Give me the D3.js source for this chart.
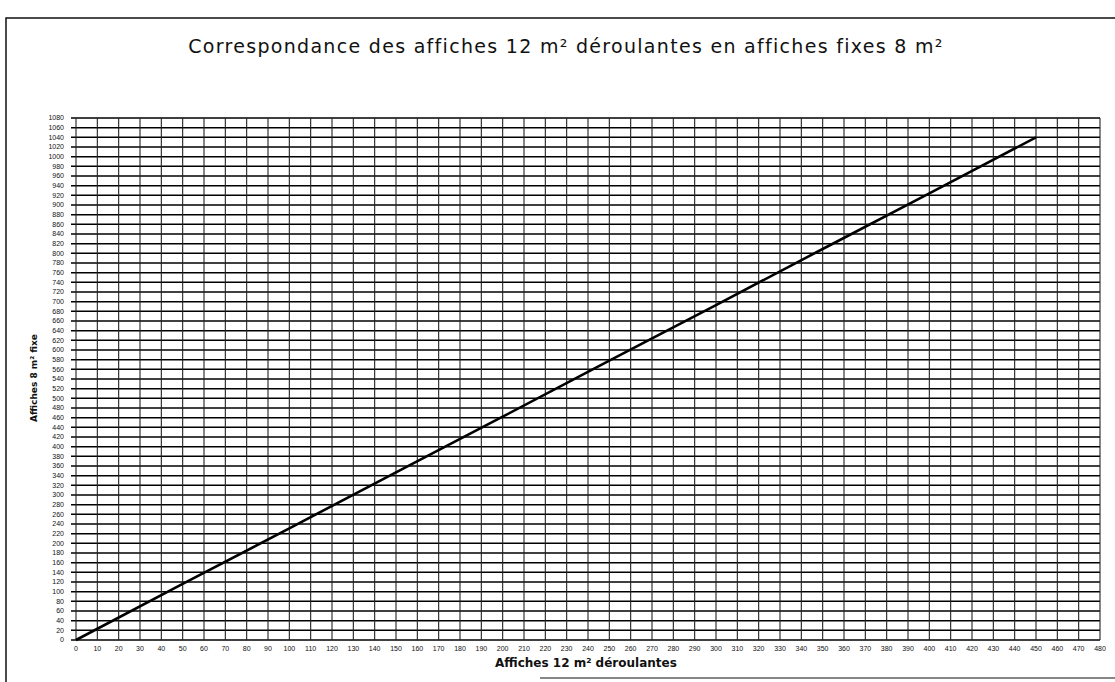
<!DOCTYPE html>
<html>
<head>
<meta charset="utf-8">
<script src="https://cdn.jsdelivr.net/npm/d3@7"></script>
<style>
  body { margin: 0; background: #fff; }
  svg { display: block; }
</style>
</head>
<body>
<svg width="1115" height="682"></svg>
<script>
// values
var titleText = "Correspondance des affiches 12 m\u00b2 d\u00e9roulantes en affiches fixes 8 m\u00b2";
var xLabel = "Affiches 12 m\u00b2 d\u00e9roulantes";
var yLabel = "Affiches 8 m\u00b2 fixe";
var xTicks = d3.range(0, 481, 10);
var yTicks = d3.range(0, 1081, 20);
var deroulantes = [0, 50, 100, 150, 200, 250, 300, 350, 400, 450];
var fixes = [0, 116, 231, 347, 462, 578, 693, 809, 924, 1040];

var svg = d3.select("svg");
var ink = "#111";

var scX = d3.scaleLinear().domain([0, 480]).range([76, 1100]);
var scY = d3.scaleLinear().domain([0, 1080]).range([640, 118]);

// outer frame of the scanned sheet
svg.append("path")
    .attr("fill", "none").attr("stroke", ink).attr("stroke-width", 1.5)
    .attr("d", "M6,682 L6,18 L1115,18");
svg.append("line")
    .attr("x1", 540).attr("x2", 1115).attr("y1", 678).attr("y2", 678)
    .attr("stroke", ink).attr("stroke-width", 1.2);

svg.append("text")
    .attr("x", 566).attr("y", 53)
    .attr("text-anchor", "middle")
    .attr("font-family", "DejaVu Sans, sans-serif")
    .attr("font-size", 19).attr("letter-spacing", 1.3).attr("fill", ink)
    .text(titleText);

var grid = svg.append("g").attr("id", "grid");

grid.selectAll("line.h")
    .data(yTicks).enter().append("line")
    .attr("class", "h")
    .attr("x1", scX(0) - 5).attr("x2", scX(480))
    .attr("y1", d => scY(d)).attr("y2", d => scY(d))
    .attr("stroke", "#000").attr("stroke-width", 1.5);

grid.selectAll("line.v")
    .data(xTicks).enter().append("line")
    .attr("class", "v")
    .attr("x1", d => scX(d)).attr("x2", d => scX(d))
    .attr("y1", scY(1080)).attr("y2", scY(0))
    .attr("stroke", "#222").attr("stroke-width", 1.1);

// tick labels
svg.append("g")
    .attr("font-family", "Liberation Sans, Arial, sans-serif")
    .attr("font-size", 7).attr("fill", ink)
    .selectAll("text")
    .data(yTicks).enter().append("text")
    .attr("x", 64).attr("y", d => scY(d) + 2.4)
    .attr("text-anchor", "end")
    .text(d => d);

svg.append("g")
    .attr("font-family", "Liberation Sans, Arial, sans-serif")
    .attr("font-size", 7).attr("fill", ink)
    .selectAll("text")
    .data(xTicks).enter().append("text")
    .attr("x", d => scX(d)).attr("y", 651)
    .attr("text-anchor", "middle")
    .text(d => d);

svg.append("text")
    .attr("x", 495).attr("y", 667)
    .attr("font-family", "DejaVu Sans, sans-serif")
    .attr("font-weight", "bold")
    .attr("font-size", 12).attr("fill", ink)
    .text(xLabel);

svg.append("text")
    .attr("transform", "translate(37,378) rotate(-90)")
    .attr("text-anchor", "middle")
    .attr("font-family", "DejaVu Sans, sans-serif")
    .attr("font-weight", "bold")
    .attr("font-size", 9).attr("fill", ink)
    .text(yLabel);

var lineMaker = d3.line()
    .x((d, i) => scX(deroulantes[i]))
    .y(d => scY(d));

svg.append("path")
    .attr("fill", "none").attr("stroke", "#000").attr("stroke-width", 2.6)
    .attr("d", lineMaker(fixes));
</script>
</body>
</html>
